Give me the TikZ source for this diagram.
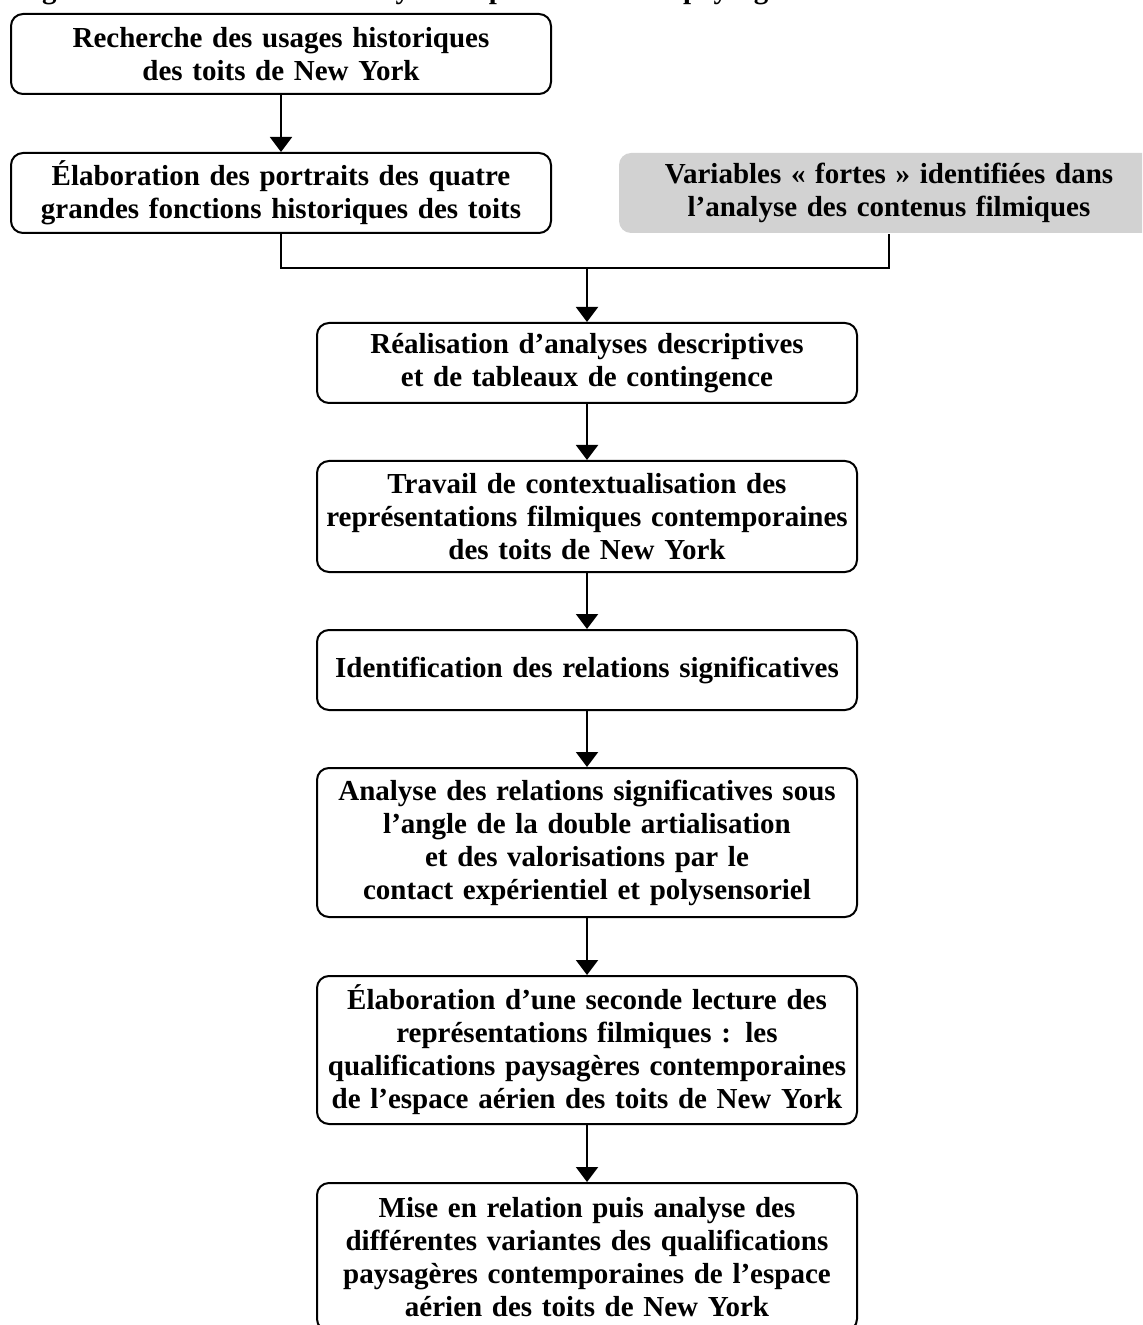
\documentclass[tikz,border=0pt]{standalone}
\usepackage{fontspec}
\setmainfont{Liberation Serif}
\usetikzlibrary{arrows.meta}
\definecolor{boxgray}{RGB}{210,210,210}
\begin{document}
\begin{tikzpicture}[
		% 1 unite = 1 pixel de la figure d'origine
		x=0.5pt, y=-0.5pt,
		etape/.style={draw, line width=1pt, rounded corners=6pt, anchor=north,
			text width=266pt, inner xsep=2pt, inner ysep=0pt, align=center,
			minimum height=40pt, font=\bfseries\fontsize{14.5}{16.5}\selectfont},
		etapegrise/.style={etape, draw=none, fill=boxgray},
		fleche/.style={line width=1pt, -{Triangle[width=11pt,length=7.5pt]}},
		lien/.style={line width=1pt},
		]
		\useasboundingbox (0,0) rectangle (1142,1325);
		\clip (0,0) rectangle (1142,1325);
		\node[anchor=base west, inner sep=0pt, font=\bfseries\fontsize{14.5}{16.5}\selectfont] (titre) at (16,-1)
			{Figure 12.1 : Démarche d'analyse des portraits et des paysages};
		\node[etape] (usages) at (281,13) {Recherche des usages historiques\\des toits de New York};
		\node[etape] (portraits) at (281,152) {Élaboration des portraits des quatre\\grandes fonctions historiques des toits};
		\node[etapegrise] (variables) at (889,152) {Variables « fortes » identifiées dans\\l’analyse des contenus filmiques};
		\node[etape] (descriptives) at (587,322) {Réalisation d’analyses descriptives\\et de tableaux de contingence};
		\node[etape, minimum height=55.5pt] (contexte) at (587,460) {Travail de contextualisation des\\représentations filmiques contemporaines\\des toits de New York};
		\node[etape] (relations) at (587,629) {Identification des relations significatives};
		\node[etape, minimum height=74.5pt] (artialisation) at (587,767) {Analyse des relations significatives sous\\l’angle de la double artialisation\\et des valorisations par le\\contact expérientiel et polysensoriel};
		\node[etape, minimum height=74pt] (lecture) at (587,975) {Élaboration d’une seconde lecture des\\représentations filmiques : les\\qualifications paysagères contemporaines\\de l’espace aérien des toits de New York};
		\node[etape, minimum height=74pt] (variantes) at (587,1182) {Mise en relation puis analyse des\\différentes variantes des qualifications\\paysagères contemporaines de l’espace\\aérien des toits de New York};
		% jonction des deux sources
		\coordinate (jonction) at (587,268);
		\draw[fleche] (usages) -- (portraits);
		\draw[lien] (portraits.south) |- (jonction) -| (variables.south);
		\draw[fleche] (jonction) -- (descriptives);
		\draw[fleche] (descriptives) -- (contexte);
		\draw[fleche] (contexte) -- (relations);
		\draw[fleche] (relations) -- (artialisation);
		\draw[fleche] (artialisation) -- (lecture);
		\draw[fleche] (lecture) -- (variantes);
	\end{tikzpicture}
\end{document}
